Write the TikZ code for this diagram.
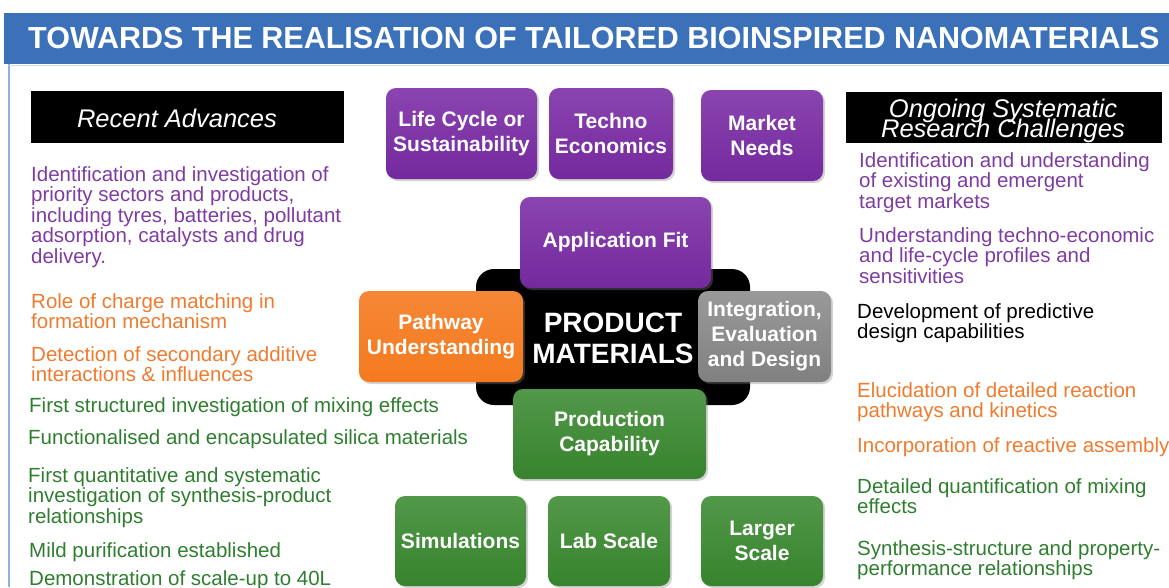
\documentclass[tikz,border=0pt]{standalone}
\usepackage{fontspec}
\setmainfont{Liberation Sans}
\usetikzlibrary{positioning, shadows}

\definecolor{titleblue}{HTML}{3A71B9}
\definecolor{boxpurple}{HTML}{7A2BA5}
\definecolor{boxorange}{HTML}{F47A1F}
\definecolor{boxgrey}{HTML}{808080}
\definecolor{boxgreen}{HTML}{3A8A30}
\definecolor{txtpurple}{HTML}{7E3CA3}
\definecolor{txtorange}{HTML}{F07A2E}
\definecolor{txtgreen}{HTML}{2F7E2F}

% lines of a text block, baseline on the first line, tight leading
\newcommand{\textlines}[1]{\vtop{\lineskiplimit=-100pt\let\\\cr
    \halign{##\hfil\cr#1\crcr}}}
\newcommand{\centerlines}[1]{\vtop{\lineskiplimit=-100pt\let\\\cr
    \halign{\hfil##\hfil\cr#1\crcr}}}

\begin{document}
\begin{tikzpicture}[x=1pt, y=-1pt,
    box/.style={rounded corners=10pt, draw=none, text=white, align=center,
        font=\bfseries\fontsize{21}{25}\selectfont, inner sep=0pt,
        drop shadow={opacity=0.35, shadow xshift=2pt, shadow yshift=-2pt}},
    purplebox/.style={box, top color=boxpurple!88!white, bottom color=boxpurple!95!black},
    orangebox/.style={box, top color=boxorange!90!white, bottom color=boxorange},
    greybox/.style={box, top color=boxgrey!80!white, bottom color=boxgrey},
    greenbox/.style={box, top color=boxgreen!88!white, bottom color=boxgreen!95!black},
    header/.style={anchor=base, text=white, inner sep=0pt,
        font=\itshape\fontsize{25.5}{19.5}\selectfont},
    txt/.style={anchor=base west, inner sep=0pt,
        font=\fontsize{20.5}{20.5}\selectfont}]
    \useasboundingbox (0,0) rectangle (1169,587);

    % title bar and frame
    \fill[titleblue] (4,13) rectangle (1169,64);
    \draw[titleblue!55, line width=1.2pt] (9,64) -- (9,587);
    \draw[titleblue!25, line width=1pt] (9,65) -- (1169,65);
    \node[anchor=west, text=white, inner sep=0pt,
        font=\bfseries\fontsize{30.5}{36}\selectfont] (title) at (28,38)
        {TOWARDS THE REALISATION OF TAILORED BIOINSPIRED NANOMATERIALS};

    % column headers
    \fill[black] (31,91) rectangle (344,143);
    \node[header] (recent) at (177,127) {Recent Advances};
    \fill[black] (846,92) rectangle (1162,143);
    \node[header] (ongoing) at (1003,117.5) {\centerlines{Ongoing Systematic\\Research Challenges}};

    % recent advances
    \node[txt, text=txtpurple] (ra1) at (31,181) {\textlines{Identification and investigation of\\priority sectors and products,\\including tyres, batteries, pollutant\\adsorption, catalysts and drug\\delivery.}};
    \node[txt, text=txtorange] (ra2) at (31,308) {\textlines{Role of charge matching in\\formation mechanism}};
    \node[txt, text=txtorange] (ra3) at (31,361) {\textlines{Detection of secondary additive\\interactions \& influences}};
    \node[txt, text=txtgreen] (ra4) at (29,412) {First structured investigation of mixing effects};
    \node[txt, text=txtgreen] (ra5) at (28,444) {Functionalised and encapsulated silica materials};
    \node[txt, text=txtgreen] (ra6) at (28,482) {\textlines{First quantitative and systematic\\investigation of synthesis-product\\relationships}};
    \node[txt, text=txtgreen] (ra7) at (29,557) {Mild purification established};
    \node[txt, text=txtgreen] (ra8) at (29,585) {Demonstration of scale-up to 40L};

    % research challenges
    \node[txt, text=txtpurple] (rc1) at (859,167) {\textlines{Identification and understanding\\of existing and emergent\\target markets}};
    \node[txt, text=txtpurple] (rc2) at (859,242) {\textlines{Understanding techno-economic\\and life-cycle profiles and\\sensitivities}};
    \node[txt, text=black] (rc3) at (857,318) {\textlines{Development of predictive\\design capabilities}};
    \node[txt, text=txtorange] (rc4) at (857,397) {\textlines{Elucidation of detailed reaction\\pathways and kinetics}};
    \node[txt, text=txtorange] (rc5) at (857,452) {Incorporation of reactive assembly};
    \node[txt, text=txtgreen] (rc6) at (857,493) {\textlines{Detailed quantification of mixing\\effects}};
    \node[txt, text=txtgreen] (rc7) at (857,555) {\textlines{Synthesis-structure and property-\\performance relationships}};

    % drivers
    \node[purplebox, minimum width=151pt, minimum height=91pt] (lca) at (461.5,133.5) {Life Cycle or\\Sustainability};
    \node[purplebox, minimum width=124pt, minimum height=91pt] (tea) at (611,133.5) {Techno\\Economics};
    \node[purplebox, minimum width=122pt, minimum height=91pt] (market) at (762,135.5) {Market\\Needs};

    % product materials core
    \fill[black, rounded corners=18pt] (476,269) rectangle (750,405);
    \node[text=white, align=center, inner sep=0pt,
        font=\bfseries\fontsize{28}{31}\selectfont] (core) at (613,338) {PRODUCT\\MATERIALS};
    \node[purplebox, minimum width=191pt, minimum height=91pt] (appfit) at (615.5,242.5) {Application Fit};
    \node[orangebox, minimum width=164pt, minimum height=91pt] (pathway) at (441,336.5) {Pathway\\Understanding};
    \node[greybox, minimum width=133pt, minimum height=91pt] (integ) at (764.5,336.5) {Integration,\\Evaluation\\and Design};
    \node[greenbox, minimum width=193pt, minimum height=90pt] (prod) at (609.5,434) {Production\\Capability};

    % scales
    \node[greenbox, minimum width=131pt, minimum height=90pt] (sim) at (460.5,541) {Simulations};
    \node[greenbox, minimum width=122pt, minimum height=90pt] (lab) at (609,541) {Lab Scale};
    \node[greenbox, minimum width=122pt, minimum height=90pt] (large) at (762,541) {Larger\\Scale};
\end{tikzpicture}
\end{document}
